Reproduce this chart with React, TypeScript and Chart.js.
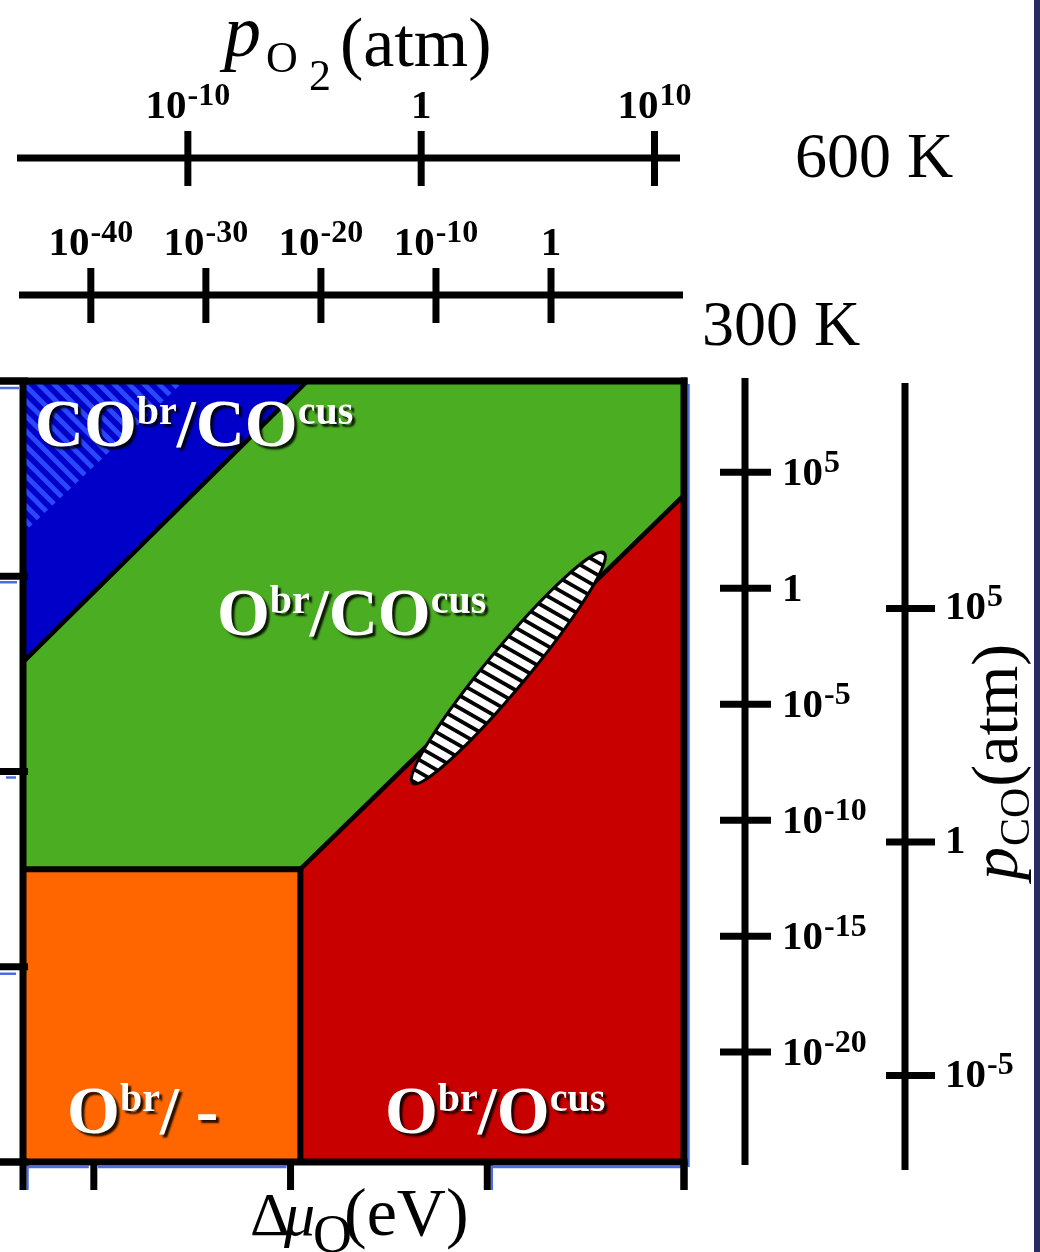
import React, { useEffect, useRef } from 'react';
import { Chart, registerables } from 'chart.js';

Chart.register(...registerables);

const SERIF = '"Liberation Serif", "Times New Roman", Times, serif';

// ---- main axes (eV) ----
const MU_O_MIN = -1.68;
const MU_O_MAX = 0.0;
const MU_CO_MIN = -2.0;
const MU_CO_MAX = 0.0;
const MU_O_TICKS = [-1.5, -1.0, -0.5, 0.0];
const MU_CO_TICKS = [0.0, -0.5, -1.0, -1.5, -2.0];

// ---- phase regions (Δμ_O, Δμ_CO) ----
const GREEN_X = [-1.68, 0.0, 0.0, -1.68];
const GREEN_Y = [0.0, 0.0, -2.0, -2.0];
const BLUE_X = [-1.68, -0.957, -1.68];
const BLUE_Y = [0.0, 0.0, -0.72];
const HATCH_X = [-1.68, -1.27, -1.68];
const HATCH_Y = [0.0, 0.0, -0.39];
const ORANGE_X = [-1.68, -0.975, -0.975, -1.68];
const ORANGE_Y = [-1.25, -1.25, -2.0, -2.0];
const RED_X = [-0.975, 0.0, 0.0, -0.975];
const RED_Y = [-1.25, -0.292, -2.0, -2.0];

// ---- phase boundaries ----
const LINE_COCO_X = [-1.68, -0.957];
const LINE_COCO_Y = [-0.72, 0.0];
const LINE_OEMPTY_X = [-1.68, -0.975];
const LINE_OEMPTY_Y = [-1.25, -1.25];
const LINE_OO_X = [-0.975, -0.975];
const LINE_OO_Y = [-1.25, -2.0];
const LINE_COO_X = [-0.975, 0.0];
const LINE_COO_Y = [-1.25, -0.292];

// ---- catalytically active region (ellipse) ----
const ELLIPSE_CENTER = [-0.4465, -0.735];
const ELLIPSE_TIP = [-0.203, -0.44];
const ELLIPSE_HALF_WIDTH = 0.052;

// ---- phase labels ----
const PHASE_BASE1 = ['CO', 'O', 'O', 'O'];
const PHASE_SUP1 = ['br', 'br', 'br', 'br'];
const PHASE_BASE2 = ['/CO', '/CO', '/ -', '/O'];
const PHASE_SUP2 = ['cus', 'cus', '', 'cus'];
const PHASE_LABEL_X = [-1.65, -1.187, -1.568, -0.76];
const PHASE_LABEL_Y = [-0.166, -0.65, -1.926, -1.926];

// ---- pressure scales ----
const PO2_600_EXP = [-10, 0, 10];
const PO2_300_EXP = [-40, -30, -20, -10, 0];
const PCO_300_EXP = [5, 0, -5, -10, -15, -20];
const PCO_600_EXP = [5, 0, -5];
const MU_O_AT_1ATM_600 = -0.668;
const MU_O_PER_DECADE_600 = 0.0593;
const MU_O_AT_1ATM_300 = -0.338;
const MU_O_PER_DECADE_300 = 0.02924;
const MU_CO_AT_1ATM_300 = -0.5306;
const MU_CO_PER_DECADE_300 = 0.0594;
const MU_CO_AT_1ATM_600 = -1.1805;
const MU_CO_PER_DECADE_600 = 0.1196;

const COLORS = {
  green: '#4bae22',
  blue: '#0000c8',
  orange: '#ff6600',
  red: '#c80000',
  hatch: '#2a48ff',
  artifact: '#4a6ee0',
  navy: '#2a2a62',
};

const zip = (xs: number[], ys: number[]) => xs.map((x, i) => ({ x, y: ys[i] }));

type Run = { t: string; size: number; dy?: number; style?: string; weight?: string; gap?: number };

function fontOf(r: Run) {
  return `${r.style || 'normal'} ${r.weight || 'normal'} ${r.size}px ${SERIF}`;
}

function drawRich(ctx: CanvasRenderingContext2D, runs: Run[], x: number, y: number, align: 'left' | 'center') {
  let total = 0;
  const widths = runs.map((r) => {
    ctx.font = fontOf(r);
    const w = ctx.measureText(r.t).width + (r.gap || 0);
    total += w;
    return w;
  });
  let cx = align === 'center' ? x - total / 2 : x;
  ctx.textAlign = 'left';
  ctx.textBaseline = 'alphabetic';
  runs.forEach((r, i) => {
    ctx.font = fontOf(r);
    ctx.fillText(r.t, cx + (r.gap || 0), y + (r.dy || 0));
    cx += widths[i];
  });
}

function tickRuns(e: number): Run[] {
  if (e === 0) return [{ t: '1', size: 41, weight: 'bold' }];
  return [
    { t: '10', size: 41, weight: 'bold' },
    { t: String(e), size: 32, weight: 'bold', dy: -13, gap: 1 },
  ];
}

function seg(ctx: CanvasRenderingContext2D, x0: number, y0: number, x1: number, y1: number) {
  ctx.beginPath();
  ctx.moveTo(x0, y0);
  ctx.lineTo(x1, y1);
  ctx.stroke();
}

function makeHatch(): CanvasPattern | string {
  const c = document.createElement('canvas');
  c.width = 15;
  c.height = 15;
  const g = c.getContext('2d');
  if (!g) return COLORS.blue;
  g.fillStyle = COLORS.blue;
  g.fillRect(0, 0, 15, 15);
  g.strokeStyle = COLORS.hatch;
  g.lineWidth = 5;
  [-15, 0, 15].forEach((o) => {
    g.beginPath();
    g.moveTo(o - 5, -5);
    g.lineTo(o + 20, 20);
    g.stroke();
  });
  const p = g.createPattern(c, 'repeat');
  return p || COLORS.blue;
}

const overlayPlugin = {
  id: 'overlay',
  beforeDraw(chart: any) {
    const ctx = chart.ctx as CanvasRenderingContext2D;
    ctx.save();
    ctx.fillStyle = '#ffffff';
    ctx.fillRect(0, 0, chart.width, chart.height);
    ctx.restore();
  },
  afterDatasetsDraw(chart: any) {
    const ctx = chart.ctx as CanvasRenderingContext2D;
    const a = chart.chartArea;
    const sx = chart.scales.x;
    const sy = chart.scales.y;
    const px = (v: number) => sx.getPixelForValue(v);
    const py = (v: number) => sy.getPixelForValue(v);

    // ---- ellipse ----
    const cx = px(ELLIPSE_CENTER[0]);
    const cy = py(ELLIPSE_CENTER[1]);
    const tx = px(ELLIPSE_TIP[0]);
    const ty = py(ELLIPSE_TIP[1]);
    const ra = Math.hypot(tx - cx, ty - cy);
    const ang = Math.atan2(ty - cy, tx - cx);
    const rb = ELLIPSE_HALF_WIDTH * Math.abs(py(-1) - py(0));
    ctx.save();
    ctx.beginPath();
    ctx.ellipse(cx, cy, ra, rb, ang, 0, Math.PI * 2);
    ctx.fillStyle = '#ffffff';
    ctx.fill();
    ctx.clip();
    ctx.translate(cx, cy);
    ctx.rotate(ang);
    ctx.strokeStyle = '#000';
    ctx.lineWidth = 3.8;
    const dA = (80 * Math.PI) / 180;
    const L = rb + 10;
    for (let t = -ra - 20; t <= ra + 20; t += 11) {
      ctx.beginPath();
      ctx.moveTo(t - Math.cos(dA) * L, -Math.sin(dA) * L);
      ctx.lineTo(t + Math.cos(dA) * L, Math.sin(dA) * L);
      ctx.stroke();
    }
    ctx.restore();
    ctx.save();
    ctx.beginPath();
    ctx.ellipse(cx, cy, ra, rb, ang, 0, Math.PI * 2);
    ctx.strokeStyle = '#000';
    ctx.lineWidth = 3;
    ctx.stroke();
    ctx.restore();

    // ---- phase labels ----
    ctx.save();
    ctx.fillStyle = '#ffffff';
    ctx.shadowColor = 'rgba(0,0,0,0.85)';
    ctx.shadowOffsetX = 3;
    ctx.shadowOffsetY = 3;
    ctx.shadowBlur = 2;
    PHASE_BASE1.forEach((b, i) => {
      const runs: Run[] = [
        { t: b, size: 68, weight: 'bold' },
        { t: PHASE_SUP1[i], size: 40, weight: 'bold', dy: -22 },
        { t: PHASE_BASE2[i], size: 68, weight: 'bold' },
      ];
      if (PHASE_SUP2[i]) runs.push({ t: PHASE_SUP2[i], size: 40, weight: 'bold', dy: -22 });
      drawRich(ctx, runs, px(PHASE_LABEL_X[i]), py(PHASE_LABEL_Y[i]), 'left');
    });
    ctx.restore();

    // ---- faint blue artefacts of the original axes ----
    ctx.save();
    ctx.strokeStyle = COLORS.artifact;
    ctx.lineWidth = 2.5;
    const yTickPx = MU_CO_TICKS.map(py);
    seg(ctx, 0, yTickPx[0] + 7, 19, yTickPx[0] + 7);
    seg(ctx, 0, yTickPx[1] + 6, 17, yTickPx[1] + 6);
    seg(ctx, 6, yTickPx[2] + 6, 16, yTickPx[2] + 6);
    seg(ctx, 0, yTickPx[3] + 7, 16, yTickPx[3] + 7);
    const xb = a.bottom + 5;
    seg(ctx, a.left + 4, xb, px(MU_O_TICKS[0]) - 5, xb);
    seg(ctx, px(MU_O_TICKS[0]) + 4, xb, px(MU_O_TICKS[1]) - 4, xb);
    seg(ctx, px(MU_O_TICKS[2]) + 4, xb, a.right, xb);
    seg(ctx, a.left + 4.5, a.bottom, a.left + 4.5, a.bottom + 28);
    seg(ctx, px(MU_O_TICKS[2]) + 4.5, a.bottom, px(MU_O_TICKS[2]) + 4.5, a.bottom + 28);
    seg(ctx, a.right + 4.5, a.top + 3, a.right + 4.5, a.bottom + 5);
    ctx.restore();

    // ---- frame and ticks ----
    ctx.save();
    ctx.strokeStyle = '#000';
    ctx.lineWidth = 7;
    ctx.lineCap = 'butt';
    seg(ctx, 0, a.top, a.right + 3.5, a.top);
    seg(ctx, 0, a.bottom, a.right + 3.5, a.bottom);
    seg(ctx, a.left, a.top, a.left, a.bottom + 28);
    seg(ctx, a.right, a.top - 3.5, a.right, a.bottom + 28);
    MU_CO_TICKS.forEach((v) => {
      const y = py(v);
      seg(ctx, 0, y, a.left + 5, y);
    });
    MU_O_TICKS.forEach((v) => {
      const x = px(v);
      seg(ctx, x, a.bottom, x, a.bottom + 28);
    });

    // ---- p_O2 scales (top) ----
    ctx.fillStyle = '#000';
    const hAxis = (yLine: number, x0: number, x1: number, exps: number[], mu0: number, step: number) => {
      ctx.lineWidth = 7;
      seg(ctx, x0, yLine, x1, yLine);
      exps.forEach((e) => {
        const x = px(mu0 + step * e);
        seg(ctx, x, yLine - 27, x, yLine + 28);
        drawRich(ctx, tickRuns(e), x, yLine - 40, 'center');
      });
    };
    hAxis(158, 17, 680, PO2_600_EXP, MU_O_AT_1ATM_600, MU_O_PER_DECADE_600);
    hAxis(295, 19, 683, PO2_300_EXP, MU_O_AT_1ATM_300, MU_O_PER_DECADE_300);

    // ---- p_CO scales (right) ----
    const vAxis = (
      xLine: number, y0: number, y1: number, exps: number[], mu0: number, step: number,
      tl: number, tr: number, ldx: number, ldy: number,
    ) => {
      ctx.lineWidth = 7;
      seg(ctx, xLine, y0, xLine, y1);
      exps.forEach((e) => {
        const y = py(mu0 + step * e);
        seg(ctx, xLine - tl, y, xLine + tr, y);
        drawRich(ctx, tickRuns(e), xLine + ldx, y + ldy, 'left');
      });
    };
    vAxis(745, 378, 1165, PCO_300_EXP, MU_CO_AT_1ATM_300, MU_CO_PER_DECADE_300, 25, 26, 37, 13);
    vAxis(905, 383, 1170, PCO_600_EXP, MU_CO_AT_1ATM_600, MU_CO_PER_DECADE_600, 19, 30, 40, 11);

    // ---- titles ----
    drawRich(ctx, [{ t: 'p', size: 74, style: 'italic' }], 224, 56, 'left');
    drawRich(ctx, [{ t: 'O', size: 44 }], 266, 72, 'left');
    drawRich(ctx, [{ t: '2', size: 44 }], 309, 90, 'left');
    drawRich(ctx, [{ t: '(atm)', size: 70 }], 340, 66, 'left');

    drawRich(ctx, [{ t: '600 K', size: 64 }], 795, 177, 'left');
    drawRich(ctx, [{ t: '300 K', size: 64 }], 702, 345, 'left');

    drawRich(ctx, [{ t: '\u0394', size: 62 }], 250, 1235, 'left');
    drawRich(ctx, [{ t: '\u03bc', size: 62, style: 'italic' }], 284, 1235, 'left');
    drawRich(ctx, [{ t: 'O', size: 54 }], 313, 1252, 'left');
    drawRich(ctx, [{ t: '(eV)', size: 68 }], 344, 1235, 'left');

    ctx.save();
    ctx.translate(1017, 880);
    ctx.rotate(-Math.PI / 2);
    drawRich(ctx, [
      { t: 'p', size: 66, style: 'italic' },
      { t: 'CO', size: 42, dy: 12, gap: 1 },
      { t: '(atm)', size: 66, gap: 1 },
    ], 0, 0, 'left');
    ctx.restore();

    // ---- right border bar ----
    ctx.fillStyle = COLORS.navy;
    ctx.fillRect(1034, 0, 6, chart.height);
    ctx.restore();
  },
};

export default function App() {
  const ref = useRef<HTMLCanvasElement | null>(null);

  useEffect(() => {
    const canvas = ref.current;
    if (!canvas) return;
    const hatch = makeHatch();
    const region = (xs: number[], ys: number[], color: any) => ({
      data: zip(xs, ys),
      showLine: true,
      fill: 'shape',
      backgroundColor: color,
      borderColor: 'rgba(0,0,0,0)',
      borderWidth: 0,
      pointRadius: 0,
    });
    const boundary = (xs: number[], ys: number[], w: number) => ({
      data: zip(xs, ys),
      showLine: true,
      fill: false,
      borderColor: '#000000',
      borderWidth: w,
      borderCapStyle: 'round',
      pointRadius: 0,
    });
    const chart = new Chart(canvas, {
      type: 'scatter',
      data: {
        datasets: [
          boundary(LINE_COCO_X, LINE_COCO_Y, 4.5),
          boundary(LINE_COO_X, LINE_COO_Y, 4.5),
          boundary(LINE_OEMPTY_X, LINE_OEMPTY_Y, 6),
          boundary(LINE_OO_X, LINE_OO_Y, 6),
          region(RED_X, RED_Y, COLORS.red),
          region(ORANGE_X, ORANGE_Y, COLORS.orange),
          region(HATCH_X, HATCH_Y, hatch),
          region(BLUE_X, BLUE_Y, COLORS.blue),
          region(GREEN_X, GREEN_Y, COLORS.green),
        ] as any,
      },
      options: {
        responsive: false,
        maintainAspectRatio: false,
        devicePixelRatio: 1,
        animation: false,
        events: [],
        layout: { padding: { left: 23, right: 356, top: 381, bottom: 90 } },
        scales: {
          x: { type: 'linear', min: MU_O_MIN, max: MU_O_MAX, display: false },
          y: { type: 'linear', min: MU_CO_MIN, max: MU_CO_MAX, display: false },
        },
        plugins: {
          legend: { display: false },
          tooltip: { enabled: false },
          filler: { propagate: false },
        },
      } as any,
      plugins: [overlayPlugin],
    });
    return () => chart.destroy();
  }, []);

  return (
    <div style={{ position: 'absolute', left: 0, top: 0, width: 1040, height: 1252 }}>
      <canvas ref={ref} width={1040} height={1252} style={{ display: 'block', width: 1040, height: 1252 }} />
    </div>
  );
}
